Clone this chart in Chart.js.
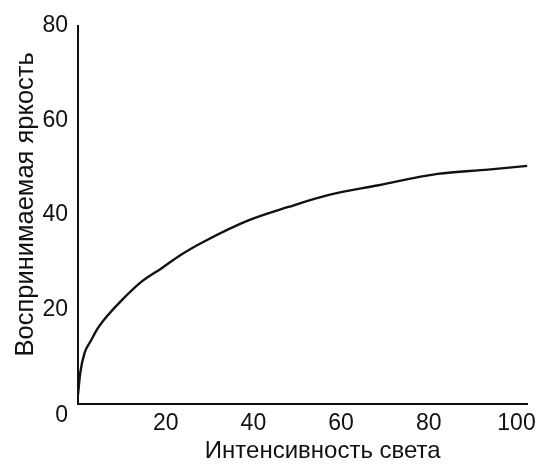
<!DOCTYPE html>
<html>
<head>
<meta charset="utf-8">
<script src="https://cdn.jsdelivr.net/npm/chart.js@4"></script>
<style>
  html, body { margin: 0; padding: 0; background: #fff; }
  #wrap { width: 542px; height: 464px; position: relative; }
</style>
</head>
<body>
<div id="wrap"><canvas id="c" width="542" height="464"></canvas></div>
<script>
// Data
const intensity = [0, 0.5, 1.5, 3, 4.5, 7, 10, 14.5, 19, 23.5, 29, 39, 48, 57, 68.5, 82, 93.5, 102.5];
const brightness = [2, 6.5, 10.8, 13.5, 16, 19, 22, 25.9, 28.7, 31.6, 34.5, 38.9, 41.7, 44.2, 46.3, 48.7, 49.6, 50.4];
const xTicks = [20, 40, 60, 80, 100];
const yTicks = [0, 20, 40, 60, 80];
const xTitle = 'Интенсивность света';
const yTitle = 'Воспринимаемая яркость';

const points = intensity.map((x, i) => ({ x: x, y: brightness[i] }));
const FONT = "'Liberation Sans', Arial, sans-serif";
const INK = '#111';
const NBSP = '\u00a0';

new Chart(document.getElementById('c'), {
  type: 'line',
  data: {
    datasets: [{
      data: points,
      borderColor: INK,
      borderWidth: 2.4,
      pointRadius: 0,
      fill: false,
      cubicInterpolationMode: 'monotone'
    }]
  },
  options: {
    responsive: false,
    animation: false,
    events: [],
    layout: { padding: { top: 26, right: 13, left: 0, bottom: 0 } },
    plugins: { legend: { display: false }, tooltip: { enabled: false } },
    scales: {
      x: {
        type: 'linear',
        min: 0,
        max: 102.5,
        afterFit: s => { s.height = 60; },
        afterBuildTicks: s => { s.ticks = xTicks.map(v => ({ value: v })); },
        grid: { display: false, drawTicks: false },
        border: { display: true, color: INK, width: 2 },
        ticks: {
          color: INK,
          padding: 6,
          maxRotation: 0,
          autoSkip: false,
          font: { family: FONT, size: 23 }
        },
        title: {
          display: true,
          text: NBSP.repeat(6) + xTitle,
          color: INK,
          padding: { top: 0, bottom: -2 },
          font: { family: FONT, size: 24 }
        }
      },
      y: {
        type: 'linear',
        min: 0,
        max: 80,
        afterFit: s => { s.width = 78; },
        afterBuildTicks: s => { s.ticks = yTicks.map(v => ({ value: v })); },
        grid: { display: false, drawTicks: false },
        border: { display: true, color: INK, width: 2 },
        ticks: {
          color: INK,
          padding: 10,
          autoSkip: false,
          font: { family: FONT, size: 23, lineHeight: 1.0 },
          callback: v => (v === 0 ? ['', '0'] : String(v))
        },
        title: {
          display: true,
          text: NBSP.repeat(3) + yTitle,
          color: INK,
          padding: { top: 11, bottom: 0 },
          font: { family: FONT, size: 25.5 }
        }
      }
    }
  }
});
</script>
</body>
</html>
